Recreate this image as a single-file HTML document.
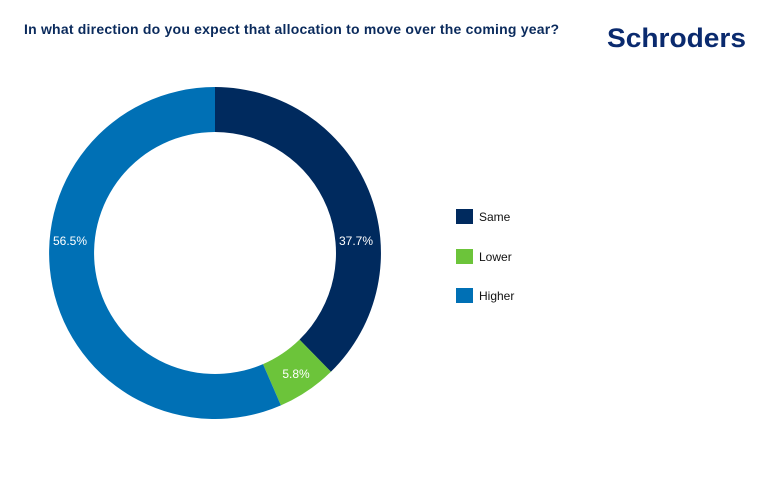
<!DOCTYPE html>
<html><head><meta charset="utf-8"><style>
body{margin:0;background:#fff;width:770px;height:492px;overflow:hidden;font-family:"Liberation Sans",sans-serif}
</style></head><body>
<svg width="770" height="492" xmlns="http://www.w3.org/2000/svg">
<text x="24" y="34" font-size="14" font-weight="bold" fill="#0a2a5c" font-family="Liberation Sans Narrow, Liberation Sans, sans-serif" textLength="535">In what direction do you expect that allocation to move over the coming year?</text>
<text x="607" y="47" font-size="27" font-weight="bold" fill="#0a2a6e" textLength="139" lengthAdjust="spacingAndGlyphs">Schroders</text>
<path d="M215,87 A166,166 0 0 1 330.9,371.8 L299.5,339.6 A121,121 0 0 0 215,132 Z" fill="#002a5e"/>
<path d="M330.9,371.8 A166,166 0 0 1 280.9,405.4 L263,364.1 A121,121 0 0 0 299.5,339.6 Z" fill="#6cc43a"/>
<path d="M280.9,405.4 A166,166 0 1 1 215,87 L215,132 A121,121 0 1 0 263,364.1 Z" fill="#0070b5"/>
<g font-size="12" fill="#fff" text-anchor="middle">
<text x="356" y="245">37.7%</text>
<text x="296" y="378">5.8%</text>
<text x="70" y="245">56.5%</text>
</g>
<rect x="456" y="209" width="17" height="15" fill="#002a5e"/>
<rect x="456" y="249" width="17" height="15" fill="#6cc43a"/>
<rect x="456" y="288" width="17" height="15" fill="#0070b5"/>
<g font-size="12" fill="#111">
<text x="479" y="221">Same</text>
<text x="479" y="261">Lower</text>
<text x="479" y="300">Higher</text>
</g>
</svg>
</body></html>
